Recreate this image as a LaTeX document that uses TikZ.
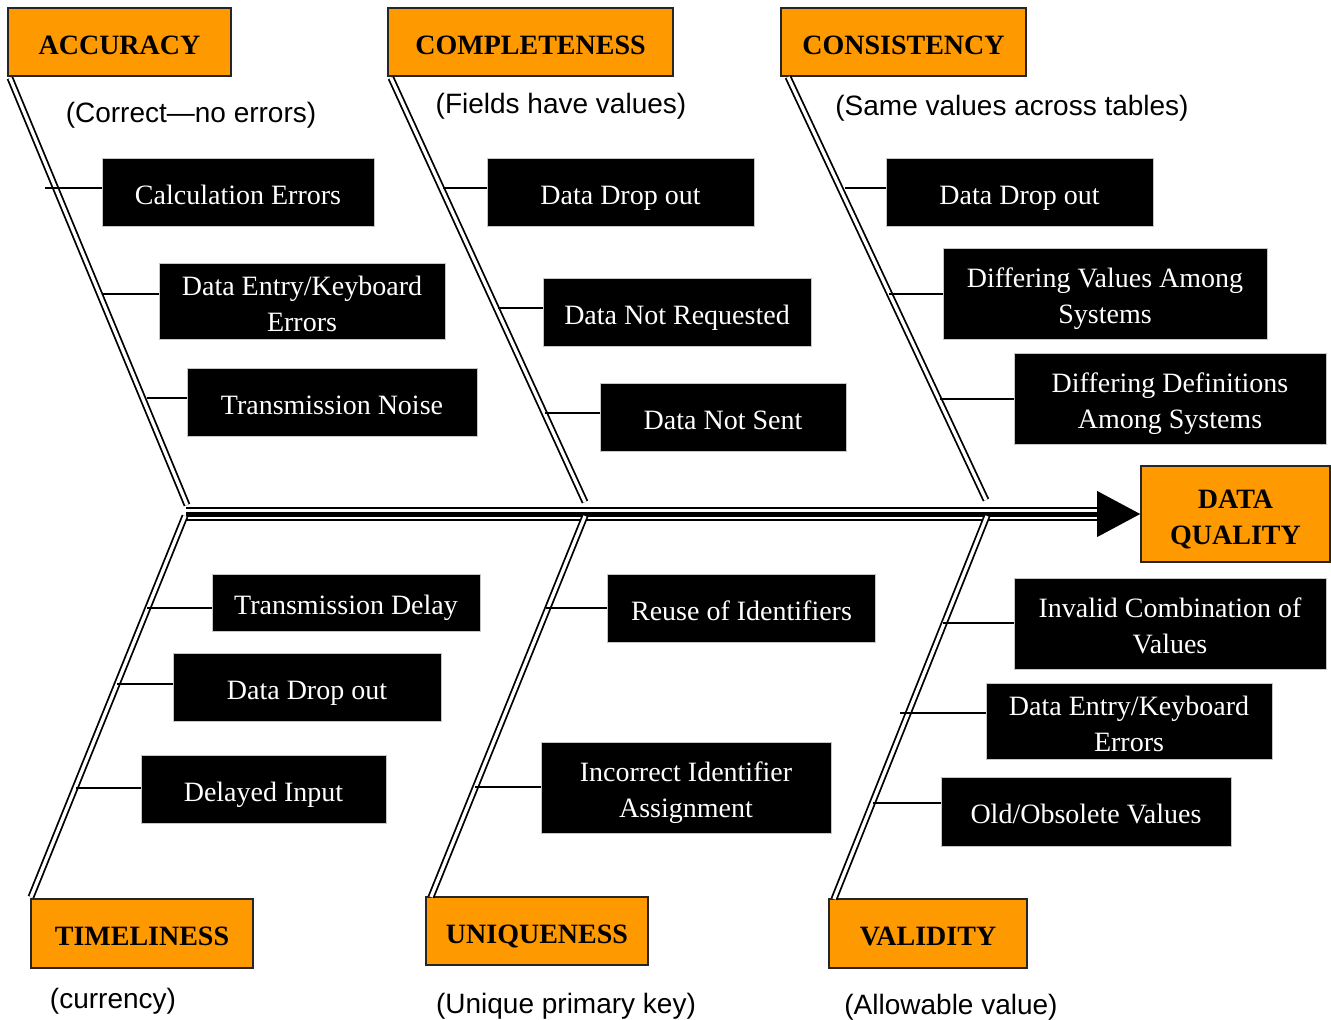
\documentclass[tikz,border=0pt]{standalone}
\usepackage{fontspec}
\setmainfont{Liberation Serif}
\newfontfamily\arialf{Liberation Sans}
\definecolor{qorange}{RGB}{255,153,0}
\begin{document}
\begin{tikzpicture}[x=1pt,y=-1pt,
  cat/.style={draw=black!85, line width=1.6pt, fill=qorange, font=\fontsize{28}{36}\selectfont\bfseries, align=center, inner sep=0pt},
  cause/.style={fill=black, draw=gray!45, line width=1pt, text=white, font=\fontsize{28}{36}\selectfont, align=center, inner sep=0pt},
  one/.style={text height=24pt, text depth=0pt},
  two/.style={text height=60pt, text depth=0pt},
  note/.style={font=\arialf\fontsize{28}{34}\selectfont, inner sep=0pt},
  bone/.style={draw=black, line width=1.8pt, double=white, double distance=3.3pt},
  twig/.style={draw=black, line width=2pt},
]
\useasboundingbox (0,0) rectangle (1331,1020);

% ---------- category headers ----------
\node[cat, one, minimum width=223pt, minimum height=68pt] (acc) at (119.5,42) {ACCURACY};
\node[cat, one, minimum width=285pt, minimum height=68pt] (com) at (530.5,42) {COMPLETENESS};
\node[cat, one, minimum width=245pt, minimum height=68pt] (con) at (903.5,42) {CONSISTENCY};
\node[cat, one, minimum width=222pt, minimum height=69pt] (tim) at (142,933.5) {TIMELINESS};
\node[cat, one, minimum width=222pt, minimum height=68pt] (uni) at (537,931) {UNIQUENESS};
\node[cat, one, minimum width=198pt, minimum height=69pt] (val) at (928,933.5) {VALIDITY};
\node[cat, two, minimum width=189pt, minimum height=96pt] (dq) at (1235.5,514) {DATA\\QUALITY};

% ---------- notes ----------
\node[note] (nacc) at (191,115.5) {(Correct—no errors)};
\node[note] (ncom) at (561,106.5) {(Fields have values)};
\node[note] (ncon) at (1012,108.5) {(Same values across tables)};
\node[note] (ntim) at (113,1001) {(currency)};
\node[note] (nuni) at (566,1006) {(Unique primary key)};
\node[note] (nval) at (951,1007) {(Allowable value)};

% ---------- spine ----------
\coordinate (sp0) at (186,514);
\coordinate (sp1) at ([xshift=-41pt]dq.west);
\draw[line width=14.6pt] (sp0) -- (sp1);
\draw[white, line width=10.4pt] (sp0) -- (sp1);
\draw[line width=5pt] (sp0) -- (sp1);
\fill (dq.west) -- ([xshift=-43pt,yshift=23pt]dq.west) -- ([xshift=-43pt,yshift=-23pt]dq.west) -- cycle;

% ---------- bones ----------
\coordinate (accT) at (10,78);   \coordinate (accB) at (187,505);
\coordinate (comT) at (391,78);  \coordinate (comB) at (585,502);
\coordinate (conT) at (788,77);  \coordinate (conB) at (986,500);
\coordinate (timT) at (185,516); \coordinate (timB) at (31,897);
\coordinate (uniT) at (585,516); \coordinate (uniB) at (431,897);
\coordinate (valT) at (987,516); \coordinate (valB) at (834,899);
\draw[bone] (accT) -- (accB);
\draw[bone] (comT) -- (comB);
\draw[bone] (conT) -- (conB);
\draw[bone] (timT) -- (timB);
\draw[bone] (uniT) -- (uniB);
\draw[bone] (valT) -- (valB);

% ---------- causes ----------
\node[cause, one, minimum width=272pt, minimum height=68pt] (c1) at (238,192) {Calculation Errors};
\node[cause, two, minimum width=286pt, minimum height=76pt] (c2) at (302,301) {Data Entry/Keyboard\\Errors};
\node[cause, one, minimum width=290pt, minimum height=68pt] (c3) at (332,402) {Transmission Noise};

\node[cause, one, minimum width=267pt, minimum height=68pt] (c4) at (620.5,192) {Data Drop out};
\node[cause, one, minimum width=268pt, minimum height=68pt] (c5) at (677,312) {Data Not Requested};
\node[cause, one, minimum width=246pt, minimum height=68pt] (c6) at (723,417) {Data Not Sent};

\node[cause, one, minimum width=267pt, minimum height=68pt] (c7) at (1019.5,192) {Data Drop out};
\node[cause, two, minimum width=324pt, minimum height=91pt] (c8) at (1105,293.5) {Differing Values Among\\Systems};
\node[cause, two, minimum width=312pt, minimum height=91pt] (c9) at (1170,398.5) {Differing Definitions\\Among Systems};

\node[cause, one, minimum width=268pt, minimum height=57pt] (c10) at (346,602.5) {Transmission Delay};
\node[cause, one, minimum width=268pt, minimum height=68pt] (c11) at (307,687) {Data Drop out};
\node[cause, one, minimum width=245pt, minimum height=68pt] (c12) at (263.5,789) {Delayed Input};

\node[cause, one, minimum width=268pt, minimum height=68pt] (c13) at (741.5,608.5) {Reuse of Identifiers};
\node[cause, two, minimum width=290pt, minimum height=91pt] (c14) at (686,787.5) {Incorrect Identifier\\Assignment};

\node[cause, two, minimum width=312pt, minimum height=91pt] (c15) at (1170,623.5) {Invalid Combination of\\Values};
\node[cause, two, minimum width=286pt, minimum height=76pt] (c16) at (1129,721) {Data Entry/Keyboard\\Errors};
\node[cause, one, minimum width=290pt, minimum height=69pt] (c17) at (1086,811.5) {Old/Obsolete Values};

% ---------- twigs ----------
\coordinate (t1) at (45,188);   \draw[twig] (t1) -- (t1 -| c1.west);
\coordinate (t2) at (102,294);  \draw[twig] (t2) -- (t2 -| c2.west);
\coordinate (t3) at (147,398);  \draw[twig] (t3) -- (t3 -| c3.west);
\coordinate (t4) at (443,188);  \draw[twig] (t4) -- (t4 -| c4.west);
\coordinate (t5) at (498,308);  \draw[twig] (t5) -- (t5 -| c5.west);
\coordinate (t6) at (545,413);  \draw[twig] (t6) -- (t6 -| c6.west);
\coordinate (t7) at (845,188);  \draw[twig] (t7) -- (t7 -| c7.west);
\coordinate (t8) at (889,294);  \draw[twig] (t8) -- (t8 -| c8.west);
\coordinate (t9) at (940,399);  \draw[twig] (t9) -- (t9 -| c9.west);
\coordinate (t10) at (147,608); \draw[twig] (t10) -- (t10 -| c10.west);
\coordinate (t11) at (117,684); \draw[twig] (t11) -- (t11 -| c11.west);
\coordinate (t12) at (76,788);  \draw[twig] (t12) -- (t12 -| c12.west);
\coordinate (t13) at (546,608); \draw[twig] (t13) -- (t13 -| c13.west);
\coordinate (t14) at (475,787); \draw[twig] (t14) -- (t14 -| c14.west);
\coordinate (t15) at (943,623); \draw[twig] (t15) -- (t15 -| c15.west);
\coordinate (t16) at (900,713); \draw[twig] (t16) -- (t16 -| c16.west);
\coordinate (t17) at (873,803); \draw[twig] (t17) -- (t17 -| c17.west);
\end{tikzpicture}
\end{document}
